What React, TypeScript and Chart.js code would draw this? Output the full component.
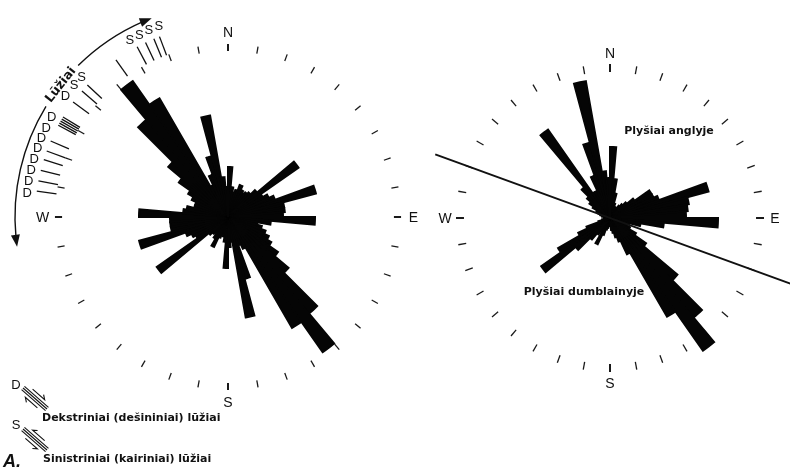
import React, { useEffect, useRef } from "react";
import { Chart, registerables } from "chart.js";

Chart.register(...registerables);

// 5° direction bins (bearing of bin start, clockwise from North)
const BIN_LABELS = Array.from({ length: 72 }, (_, i) => `${i * 5}°`);

// Left rose (faults) – bar lengths per 5° bin, starting at 0°
const LEFT_VALUES = [
  5.0, 3.0, 2.5, 2.8, 3.4, 3.0, 2.8, 3.0, 3.2, 3.8, 8.6, 4.0,
  4.5, 5.0, 9.1, 5.7, 5.7, 5.5, 8.7, 4.3, 3.0, 3.5, 4.0, 4.5,
  5.0, 6.1, 7.9, 12.6, 16.5, 12.8, 3.5, 3.0, 6.4, 10.2, 2.5, 3.0,
  5.1, 2.5, 2.0, 1.8, 2.2, 3.3, 2.5, 2.0, 2.2, 2.5, 8.7, 3.7,
  4.0, 4.5, 9.2, 5.8, 5.8, 5.8, 8.9, 4.5, 4.2, 3.5, 3.5, 4.0,
  4.6, 6.0, 7.8, 12.7, 16.6, 13.7, 3.5, 4.5, 6.3, 10.3, 4.0, 3.0,
];

// Right rose (cleats in coal / mudstone)
const RIGHT_VALUES = [
  7.1, 3.9, 2.5, 1.5, 1.2, 1.0, 1.2, 1.5, 1.8, 2.2, 3.0, 4.8,
  4.8, 5.2, 10.2, 8.0, 7.8, 7.6, 10.8, 5.4, 3.1, 2.0, 1.8, 2.2,
  3.0, 4.4, 8.8, 13.0, 16.2, 11.4, 4.0, 2.5, 2.0, 1.5, 1.2, 0.8,
  0.6, 0.8, 1.0, 1.2, 1.8, 2.9, 1.5, 2.0, 2.8, 4.5, 8.4, 6.0,
  3.5, 2.5, 1.2, 0.8, 0.6, 0.5, 0.5, 0.6, 0.8, 1.0, 1.2, 1.5,
  2.0, 2.5, 3.0, 4.0, 10.8, 3.0, 3.0, 4.5, 7.8, 13.9, 4.7, 4.0,
];

const SCALE_MAX = 17;

const TICK_ANGLES = Array.from({ length: 36 }, (_, i) => i * 10);
const COMPASS_LABELS = ["N", "E", "S", "W"];
const COMPASS_ANGLES = [0, 90, 180, 270];

// Fault annotation strokes (bearings) and their D / S labels on the left rose
const FAULT_LINE_ANGLES = [
  324.5, 331.9, 334.7, 337.4, 339.2, 310.8, 313.2, 306.6, 298.4, 299.1, 299.8,
  300.5, 301.2, 293.2, 290.0, 287.3, 284.0, 280.8, 277.7,
];
const FAULT_LABEL_TEXT = ["S", "S", "S", "S", "S", "S", "D", "D", "D", "D", "D", "D", "D", "D", "D"];
const FAULT_LABEL_ANGLES = [331, 334, 337, 340, 310.5, 313.6, 306.5, 299.4, 296, 292.8, 289.9, 286.6, 283.4, 280, 276.8];
const FAULT_ARROW_FROM = 262;
const FAULT_ARROW_TO = 339;
const FAULT_ARROW_LABEL = "Lūžiai";
const FAULT_ARROW_LABEL_ANGLE = 308.3;

// Right rose: dividing line bearing
const DIVIDE_BEARING = 110;
const RIGHT_TEXT_UPPER = "Plyšiai anglyje";
const RIGHT_TEXT_LOWER = "Plyšiai dumblainyje";

const LEGEND_D = "Dekstriniai (dešininiai) lūžiai";
const LEGEND_S = "Sinistriniai (kairiniai) lūžiai";

const INK = "#111111";
const BAR = "#050505";
const BOLD_FONT = "bold 11px 'DejaVu Sans'";
const ARC_FONT = "bold 12.5px 'DejaVu Sans'";
const COMPASS_FONT = "14px 'Liberation Sans'";
const DS_FONT = "13px 'Liberation Sans'";

const toXY = (cx: number, cy: number, bearing: number, r: number): [number, number] => {
  const t = (bearing * Math.PI) / 180;
  return [cx + Math.sin(t) * r, cy - Math.cos(t) * r];
};

type Extra = (ctx: CanvasRenderingContext2D, cx: number, cy: number, R: number) => void;

function roseDecor(tickIn: number, tickOut: number, labelR: number, extra?: Extra) {
  return {
    id: "roseDecor",
    beforeDatasetsDraw(chart: any) {
      const s = chart.scales.r;
      const ctx: CanvasRenderingContext2D = chart.ctx;
      const cx = s.xCenter, cy = s.yCenter, R = s.drawingArea;
      ctx.save();
      ctx.strokeStyle = "#1a1a1a";
      TICK_ANGLES.forEach((a) => {
        const main = a % 90 === 0;
        const [x0, y0] = toXY(cx, cy, a, R * tickIn);
        const [x1, y1] = toXY(cx, cy, a, R * tickOut);
        ctx.lineWidth = main ? 2 : 1.3;
        ctx.beginPath();
        ctx.moveTo(x0, y0);
        ctx.lineTo(x1, y1);
        ctx.stroke();
      });
      ctx.restore();
    },
    afterDatasetsDraw(chart: any) {
      const s = chart.scales.r;
      const ctx: CanvasRenderingContext2D = chart.ctx;
      const cx = s.xCenter, cy = s.yCenter, R = s.drawingArea;
      ctx.save();
      ctx.fillStyle = INK;
      ctx.font = COMPASS_FONT;
      ctx.textAlign = "center";
      ctx.textBaseline = "middle";
      COMPASS_LABELS.forEach((t, i) => {
        const [x, y] = toXY(cx, cy, COMPASS_ANGLES[i], R * labelR);
        ctx.fillText(t, x, y + 1);
      });
      ctx.restore();
      if (extra) {
        ctx.save();
        extra(ctx, cx, cy, R);
        ctx.restore();
      }
    },
  };
}

function arrowHead(ctx: CanvasRenderingContext2D, tip: [number, number], dir: [number, number], len: number, half: number) {
  const [dx, dy] = dir;
  const nx = -dy, ny = dx;
  const bx = tip[0] - dx * len, by = tip[1] - dy * len;
  ctx.beginPath();
  ctx.moveTo(tip[0], tip[1]);
  ctx.lineTo(bx + nx * half, by + ny * half);
  ctx.lineTo(bx - nx * half, by - ny * half);
  ctx.closePath();
  ctx.fill();
}

function shearSymbol(ctx: CanvasRenderingContext2D, x0: number, y0: number, x1: number, y1: number, dextral: boolean) {
  const dx = x1 - x0, dy = y1 - y0;
  const L = Math.hypot(dx, dy);
  const ux = dx / L, uy = dy / L;
  const nx = -uy, ny = ux; // toward lower-left
  ctx.lineWidth = 1.1;
  [-2.2, 0, 2.2].forEach((k) => {
    ctx.beginPath();
    ctx.moveTo(x0 + nx * k, y0 + ny * k);
    ctx.lineTo(x1 + nx * k, y1 + ny * k);
    ctx.stroke();
  });
  const drawHalf = (side: number, sign: number) => {
    const mx = (x0 + x1) / 2 + nx * side, my = (y0 + y1) / 2 + ny * side;
    const sx = mx - ux * 8 * sign, sy = my - uy * 8 * sign;
    const ex = mx + ux * 8 * sign, ey = my + uy * 8 * sign;
    ctx.beginPath();
    ctx.moveTo(sx, sy);
    ctx.lineTo(ex, ey);
    ctx.lineTo(ex - ux * 4 * sign + nx * 3 * Math.sign(side), ey - uy * 4 * sign + ny * 3 * Math.sign(side));
    ctx.stroke();
  };
  if (dextral) {
    drawHalf(5.5, -1);
    drawHalf(-5.5, 1);
  } else {
    drawHalf(5.5, 1);
    drawHalf(-5.5, -1);
  }
}

const leftExtra: Extra = (ctx, cx, cy, R) => {
  ctx.strokeStyle = INK;
  ctx.lineWidth = 1.3;
  FAULT_LINE_ANGLES.forEach((a) => {
    const [x0, y0] = toXY(cx, cy, a, R * 1.018);
    const [x1, y1] = toXY(cx, cy, a, R * 1.135);
    ctx.beginPath();
    ctx.moveTo(x0, y0);
    ctx.lineTo(x1, y1);
    ctx.stroke();
  });
  ctx.fillStyle = INK;
  ctx.font = DS_FONT;
  ctx.textAlign = "center";
  ctx.textBaseline = "middle";
  FAULT_LABEL_TEXT.forEach((t, i) => {
    const [x, y] = toXY(cx, cy, FAULT_LABEL_ANGLES[i], R * 1.19);
    ctx.fillText(t, x, y);
  });
  const rA = R * 1.253;
  const toCanvas = (b: number) => ((b - 90) * Math.PI) / 180;
  ctx.lineWidth = 1.4;
  ctx.beginPath();
  ctx.arc(cx, cy, rA, toCanvas(FAULT_ARROW_FROM + 2.5), toCanvas(FAULT_ARROW_LABEL_ANGLE - 7));
  ctx.stroke();
  ctx.beginPath();
  ctx.arc(cx, cy, rA, toCanvas(FAULT_ARROW_LABEL_ANGLE + 7), toCanvas(FAULT_ARROW_TO - 2.5));
  ctx.stroke();
  const tTop = (FAULT_ARROW_TO * Math.PI) / 180;
  arrowHead(ctx, toXY(cx, cy, FAULT_ARROW_TO, rA), [Math.cos(tTop), Math.sin(tTop)], 12, 4.5);
  const tBot = (FAULT_ARROW_FROM * Math.PI) / 180;
  arrowHead(ctx, toXY(cx, cy, FAULT_ARROW_FROM, rA), [-Math.cos(tBot), -Math.sin(tBot)], 12, 4.5);
  const [lx, ly] = toXY(cx, cy, FAULT_ARROW_LABEL_ANGLE, rA);
  ctx.save();
  ctx.translate(lx, ly);
  ctx.rotate((FAULT_ARROW_LABEL_ANGLE * Math.PI) / 180);
  ctx.font = ARC_FONT;
  ctx.textAlign = "center";
  ctx.textBaseline = "middle";
  ctx.fillText(FAULT_ARROW_LABEL, 0, 0);
  ctx.restore();

  ctx.font = DS_FONT;
  ctx.textAlign = "center";
  ctx.textBaseline = "middle";
  ctx.fillText("D", 16, 385);
  ctx.fillText("S", 16, 425);
  ctx.strokeStyle = INK;
  shearSymbol(ctx, 23, 388, 47, 409, true);
  shearSymbol(ctx, 23, 429, 47, 450, false);
  ctx.font = BOLD_FONT;
  ctx.textAlign = "left";
  ctx.fillText(LEGEND_D, 42, 418);
  ctx.fillText(LEGEND_S, 43, 459);
  ctx.font = "italic bold 18px 'Liberation Sans'";
  ctx.textBaseline = "alphabetic";
  ctx.fillText("A.", 3, 467);
};

const rightExtra: Extra = (ctx, cx, cy, R) => {
  ctx.strokeStyle = INK;
  ctx.lineWidth = 2;
  const [x0, y0] = toXY(cx, cy, DIVIDE_BEARING + 180, R * 1.094);
  const [x1, y1] = toXY(cx, cy, DIVIDE_BEARING, R * 1.25);
  ctx.beginPath();
  ctx.moveTo(x0, y0);
  ctx.lineTo(x1, y1);
  ctx.stroke();
  ctx.fillStyle = INK;
  ctx.font = BOLD_FONT;
  ctx.textAlign = "center";
  ctx.textBaseline = "middle";
  ctx.fillText(RIGHT_TEXT_UPPER, cx + 59, cy - 87);
  ctx.fillText(RIGHT_TEXT_LOWER, cx - 26, cy + 74);
};

function makeRose(canvas: HTMLCanvasElement, values: number[], padding: any, plugin: any) {
  return new Chart(canvas, {
    type: "polarArea",
    data: {
      labels: BIN_LABELS,
      datasets: [
        {
          data: values,
          backgroundColor: BAR,
          borderColor: BAR,
          borderWidth: 2,
          borderJoinStyle: "miter",
        },
      ],
    },
    options: {
      responsive: false,
      maintainAspectRatio: false,
      animation: false,
      events: [],
      layout: { padding },
      plugins: { legend: { display: false }, tooltip: { enabled: false } },
      scales: {
        r: {
          min: 0,
          max: SCALE_MAX,
          startAngle: 0,
          ticks: { display: false },
          grid: { display: false },
          angleLines: { display: false },
          pointLabels: { display: false },
        },
      },
    } as any,
    plugins: [plugin],
  });
}

export default function App() {
  const leftRef = useRef<HTMLCanvasElement>(null);
  const rightRef = useRef<HTMLCanvasElement>(null);

  useEffect(() => {
    const left = makeRose(
      leftRef.current!,
      LEFT_VALUES,
      { left: 58, right: 392, top: 47, bottom: 82 },
      roseDecor(0.976, 1.018, 1.09, leftExtra)
    );
    const right = makeRose(
      rightRef.current!,
      RIGHT_VALUES,
      { left: 440, right: 10, top: 48, bottom: 81 },
      roseDecor(0.859, 0.906, 0.97, rightExtra)
    );
    return () => {
      left.destroy();
      right.destroy();
    };
  }, []);

  const cStyle: React.CSSProperties = { position: "absolute", left: 0, top: 0, width: 790, height: 469 };
  return (
    <div style={{ position: "fixed", left: 0, top: 0, width: 790, height: 469, background: "#fff", overflow: "hidden" }}>
      <canvas ref={leftRef} width={790} height={469} style={cStyle} />
      <canvas ref={rightRef} width={790} height={469} style={cStyle} />
    </div>
  );
}
